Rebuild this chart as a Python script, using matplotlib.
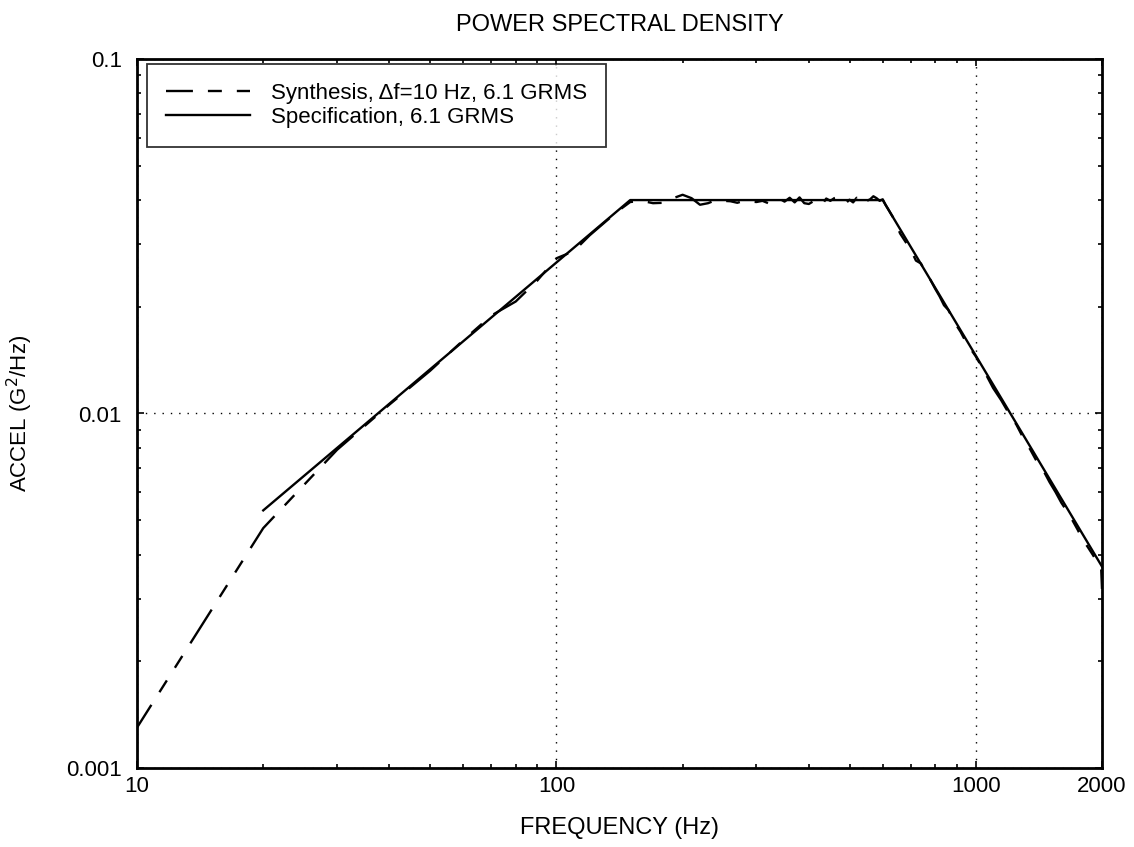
import matplotlib
matplotlib.use("Agg")
import matplotlib.pyplot as plt
from matplotlib.ticker import NullFormatter, LogLocator

plt.rcParams['font.family'] = ['Liberation Sans', 'DejaVu Sans']

# Specification PSD breakpoints
spec_freq = [20, 150, 600, 2000]
spec_psd = [0.00533, 0.04, 0.04, 0.0037]

# Synthesis PSD (df = 10 Hz)
syn_freq = [10, 20, 30, 40, 50, 60, 70, 80, 90, 100, 110, 120, 130, 140,
            150, 160, 170, 180, 190, 200, 210, 220, 230, 240, 250, 260, 270, 280, 290,
            300, 310, 320, 330, 340, 350, 360, 370, 380, 390, 400, 410, 420, 430, 440,
            450, 460, 470, 480, 490, 500, 510, 520, 530, 540, 550, 560, 570, 580, 590,
            600, 610, 620, 640, 660, 680, 700, 720, 740, 760, 780, 800, 820, 840, 860,
            880, 900, 920, 940, 960, 980, 1000, 1050, 1100, 1150, 1200, 1250, 1300,
            1350, 1400, 1450, 1500, 1550, 1600, 1650, 1700, 1750, 1800, 1850, 1900,
            1950, 1990, 2000]
syn_psd = [0.0013, 0.00475, 0.0079, 0.0106, 0.0132, 0.0161, 0.0189, 0.0207, 0.0237, 0.0274,
           0.0287, 0.0318, 0.0345, 0.0372,
           0.0395, 0.0398, 0.0392, 0.0393, 0.0405, 0.0414, 0.0405, 0.0388, 0.0392, 0.0400,
           0.0398, 0.0397, 0.0393, 0.0398, 0.0396, 0.0395, 0.0398, 0.0392, 0.0398, 0.0404,
           0.0396, 0.0406, 0.0394, 0.0407, 0.0392, 0.0390, 0.0397, 0.0398, 0.0388, 0.0404,
           0.0398, 0.0405, 0.0408, 0.0397, 0.0392, 0.0401, 0.0394, 0.0406, 0.0398, 0.0408,
           0.0398, 0.0402, 0.0410, 0.0405, 0.0398, 0.0402,
           0.0387, 0.0375, 0.0352, 0.0322, 0.0305, 0.0290, 0.0270, 0.0265, 0.0250, 0.0238,
           0.0225, 0.0214, 0.0202, 0.0196, 0.0186, 0.0177, 0.0170, 0.0162, 0.0158, 0.0150,
           0.0145, 0.0131, 0.0118, 0.0109, 0.0100, 0.0093, 0.0085, 0.0079, 0.0073, 0.0069,
           0.0064, 0.0060, 0.0056, 0.0053, 0.0050, 0.0047, 0.0044, 0.0042, 0.0040, 0.0038,
           0.0037, 0.0032]

x_ticks = [10, 100, 1000, 2000]
x_ticklabels = ['10', '100', '1000', '2000']
y_ticks = [0.001, 0.01, 0.1]
y_ticklabels = ['0.001', '0.01', '0.1']

fig = plt.figure(figsize=(11.34, 8.47), dpi=100)
ax = fig.add_axes([137/1134, 1 - 768/847, (1102-137)/1134, (768-59)/847])

ax.plot(syn_freq, syn_psd, color='black', lw=1.7,
        linestyle=(5.5, (16.9, 6.35, 5.9, 6.35, 5.9, 6.35)),
        label='Synthesis, \u0394f=10 Hz, 6.1 GRMS')
ax.plot(spec_freq, spec_psd, color='black', lw=1.7, label='Specification, 6.1 GRMS')

ax.set_xscale('log')
ax.set_yscale('log')
ax.set_xlim(10, 2000)
ax.set_ylim(0.001, 0.1)

ax.set_xticks(x_ticks)
ax.set_xticklabels(x_ticklabels)
ax.set_yticks(y_ticks)
ax.set_yticklabels(y_ticklabels)
ax.xaxis.set_minor_locator(LogLocator(base=10, subs=range(2, 10)))
ax.yaxis.set_minor_locator(LogLocator(base=10, subs=range(2, 10)))
ax.xaxis.set_minor_formatter(NullFormatter())
ax.yaxis.set_minor_formatter(NullFormatter())

ax.tick_params(which='both', direction='in', top=True, right=True, labelsize=16, width=1.2)
ax.tick_params(which='major', length=5)
ax.tick_params(which='minor', length=3)
ax.tick_params(axis='x', which='major', pad=6)
ax.tick_params(axis='y', which='major', pad=11)

for s in ax.spines.values():
    s.set_linewidth(2)

ax.grid(True, which='major', linestyle=(0, (1, 5)), color='black', lw=1)

ax.set_xlabel('FREQUENCY (Hz)', fontsize=17, labelpad=14)
ax.set_ylabel('ACCEL (G$^2$/Hz)', fontsize=16, labelpad=22)
ax.set_title('POWER SPECTRAL DENSITY', fontsize=17, pad=20)

leg = ax.legend(loc='upper left', bbox_to_anchor=((147-137)/965, 1 - (64-59)/709),
                borderaxespad=0, fontsize=16, frameon=True, fancybox=False,
                edgecolor='black', handlelength=3.8, handletextpad=0.95,
                borderpad=0.85, labelspacing=0.15)
leg.get_frame().set_linewidth(1.3)

fig.savefig('out.png', dpi=100)
